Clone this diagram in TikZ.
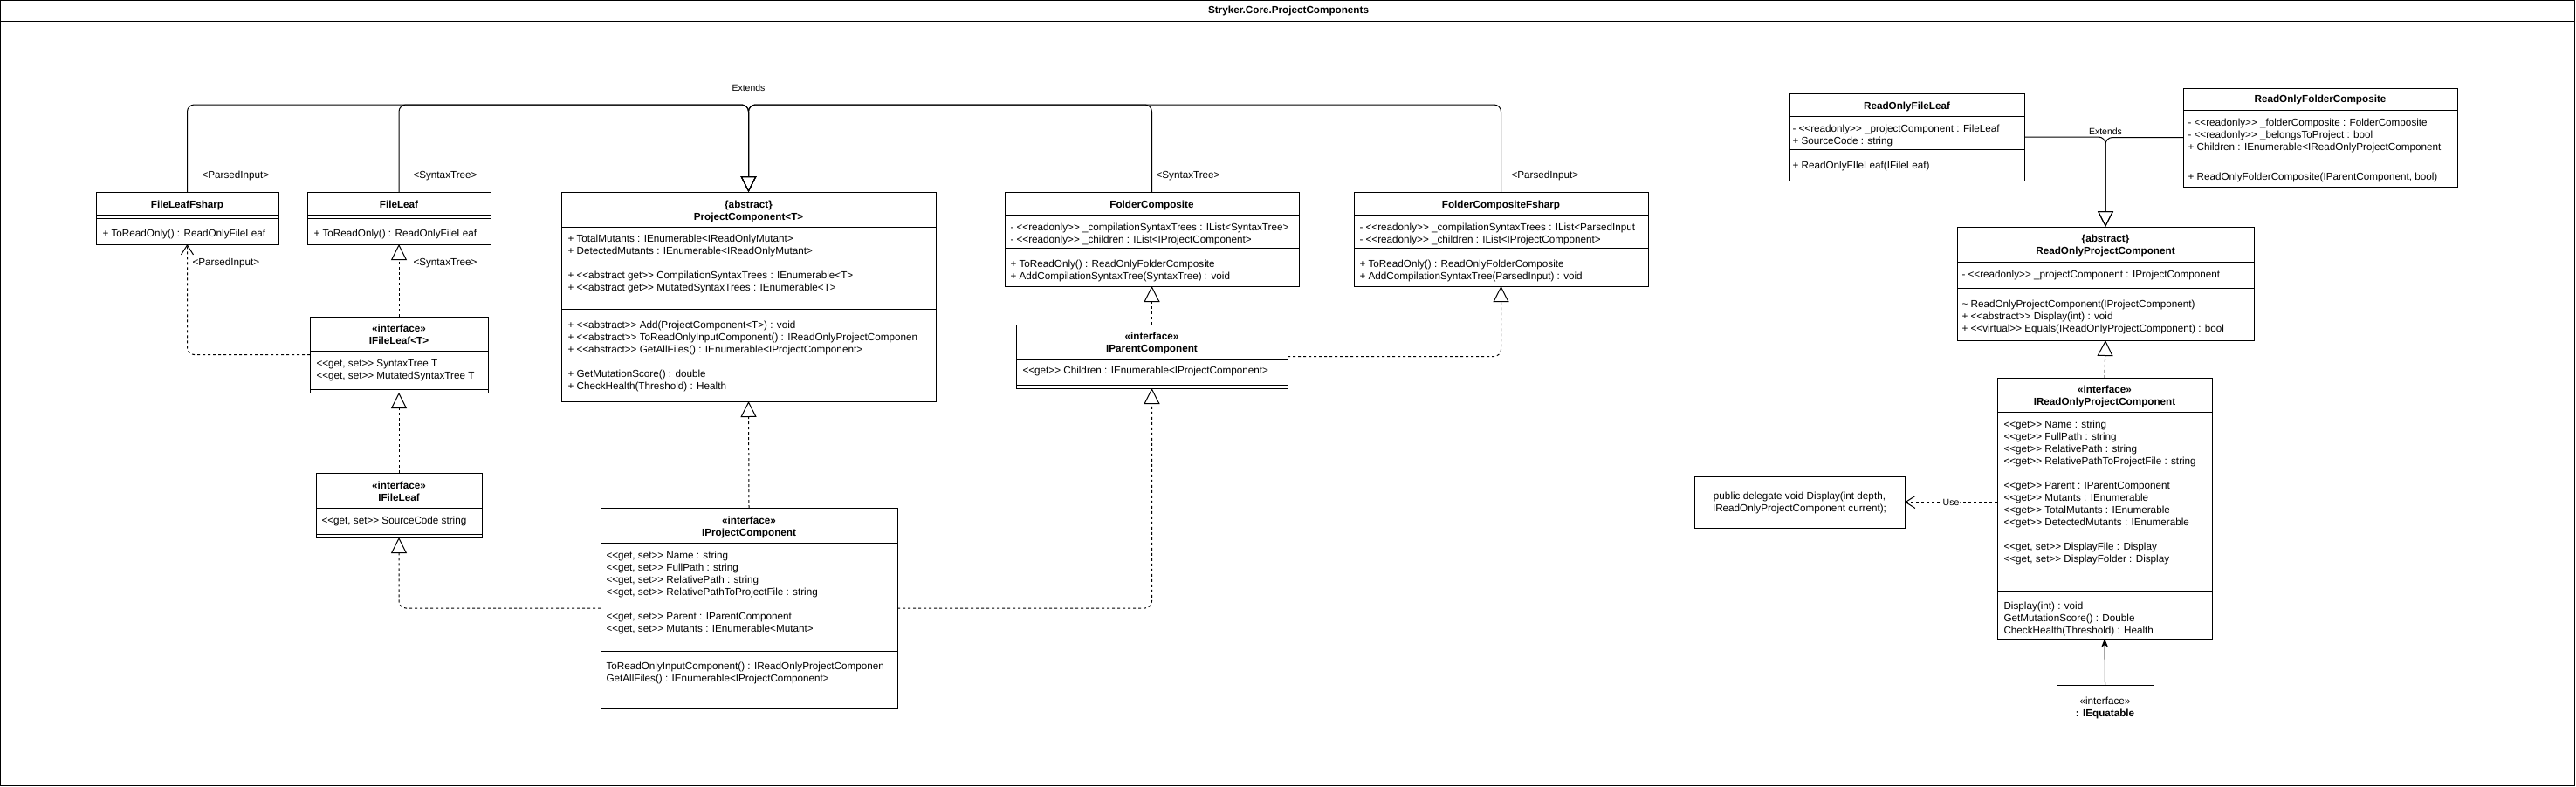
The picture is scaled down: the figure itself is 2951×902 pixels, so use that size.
\documentclass[tikz,border=0pt]{standalone}
\usepackage{fontspec}
\setmainfont{Liberation Sans}
\usetikzlibrary{arrows.meta}
\newcommand{\uft}{\fontsize{11.7}{14}\selectfont}
\newcommand{\ufl}{\fontsize{10.5}{12}\selectfont}
\newcommand{\dlt}{<\kern0pt<}
\newcommand{\dgt}{>\kern0pt>}
\newcommand{\uL}[1]{\hbox{#1}}
\newcommand{\uC}[1]{\hbox to 0pt{\hss#1\hss}}
\newcommand{\ubox}[5]{\node[cls, minimum width={#4pt-#2pt}, minimum height={#5pt-#3pt}] (#1) at ({(#2+#4)/2},{(#3+#5)/2}) {};}
\newcommand{\hdiv}[2]{\draw[line width=1pt] ([yshift=-#2pt]#1.north west) -- ([yshift=-#2pt]#1.north east);}
\begin{document}
\begin{tikzpicture}[x=1pt,y=-1pt,line width=1pt,
  cls/.style={draw, line width=1pt, inner sep=0pt, outer sep=0pt, fill=white},
  ttl/.style={font=\uft\bfseries, inner sep=0pt, anchor=base},
  txt/.style={font=\uft, inner sep=0pt, anchor=base west},
  lbl/.style={font=\uft, inner sep=0pt, anchor=base west},
  ctr/.style={font=\uft, inner sep=0pt, anchor=base},
  elbl/.style={font=\ufl, inner sep=0pt, anchor=base},
  gen/.style={-{Triangle[open,length=18pt,width=18pt]}, rounded corners=8pt},
  real/.style={gen, dash pattern=on 3pt off 3pt},
  dep/.style={-{Straight Barb[length=11pt,width=14pt]}, dash pattern=on 3pt off 3pt, rounded corners=8pt},
  assoc/.style={-{Stealth[length=10pt,width=8pt,inset=3pt]}}]
\useasboundingbox (0,0) rectangle (2951,902);
% frame
\node[cls, anchor=north west, minimum width=2949pt, minimum height=900pt] (frame) at (0.5,0.5) {};
\draw ([yshift=-24pt]frame.north west) -- ([yshift=-24pt]frame.north east);
\node[ttl] (title) at (1476,15) {Stryker.Core.ProjectComponents};

% FileLeafFsharp
\ubox{flf}{110}{220}{319}{280}
\hdiv{flf}{26}\hdiv{flf}{30}
\node[ttl] (flf-t) at (214.5,238) {FileLeafFsharp};
\node[txt] (flf-m) at (117,271) {+ ToReadOnly() : ReadOnlyFileLeaf};

% FileLeaf
\ubox{fl}{352}{220}{562}{280}
\hdiv{fl}{26}\hdiv{fl}{30}
\node[ttl] (fl-t) at (457,238) {FileLeaf};
\node[txt] (fl-m) at (359,271) {+ ToReadOnly() : ReadOnlyFileLeaf};

% ProjectComponent
\ubox{pc}{643}{220}{1072}{460}
\hdiv{pc}{40}\hdiv{pc}{134}
\node[ttl] (pc-t) at (857.5,238) {\vtop{\uC{\{abstract\}}\uC{ProjectComponent<T>}}};
\node[txt] (pc-a) at (650,277) {\vtop{\uL{+ TotalMutants : IEnumerable<IReadOnlyMutant>}\uL{+ DetectedMutants : IEnumerable<IReadOnlyMutant>}\uL{}\uL{+ \dlt abstract get\dgt{} CompilationSyntaxTrees : IEnumerable<T>}\uL{+ \dlt abstract get\dgt{} MutatedSyntaxTrees : IEnumerable<T>}}};
\node[txt] (pc-m) at (650,376) {\vtop{\uL{+ \dlt abstract\dgt{} Add(ProjectComponent<T>) : void}\uL{+ \dlt abstract\dgt{} ToReadOnlyInputComponent() : IReadOnlyProjectComponen}\uL{+ \dlt abstract\dgt{} GetAllFiles() : IEnumerable<IProjectComponent>}\uL{}\uL{+ GetMutationScore() : double}\uL{+ CheckHealth(Threshold) : Health}}};

% FolderComposite
\ubox{fc}{1151}{220}{1488}{328}
\hdiv{fc}{26}\hdiv{fc}{64}
\node[ttl] (fc-t) at (1319.5,238) {FolderComposite};
\node[txt] (fc-a) at (1157,264) {\vtop{\uL{- \dlt readonly\dgt{} \_compilationSyntaxTrees : IList<SyntaxTree>}\uL{- \dlt readonly\dgt{} \_children : IList<IProjectComponent>}}};
\node[txt] (fc-m) at (1157,306) {\vtop{\uL{+ ToReadOnly() : ReadOnlyFolderComposite}\uL{+ AddCompilationSyntaxTree(SyntaxTree) : void}}};

% FolderCompositeFsharp
\ubox{fcf}{1551}{220}{1888}{328}
\hdiv{fcf}{26}\hdiv{fcf}{64}
\node[ttl] (fcf-t) at (1719.5,238) {FolderCompositeFsharp};
\node[txt] (fcf-a) at (1557,264) {\vtop{\uL{- \dlt readonly\dgt{} \_compilationSyntaxTrees : IList<ParsedInput}\uL{- \dlt readonly\dgt{} \_children : IList<IProjectComponent>}}};
\node[txt] (fcf-m) at (1557,306) {\vtop{\uL{+ ToReadOnly() : ReadOnlyFolderComposite}\uL{+ AddCompilationSyntaxTree(ParsedInput) : void}}};

% IFileLeaf<T>
\ubox{iflt}{355}{363}{559}{450}
\hdiv{iflt}{39}\hdiv{iflt}{83}
\node[ttl] (iflt-t) at (457,380) {\vtop{\uC{«interface»}\uC{IFileLeaf<T>}}};
\node[txt] (iflt-a) at (362,420) {\vtop{\uL{\dlt get, set\dgt{} SyntaxTree T}\uL{\dlt get, set\dgt{} MutatedSyntaxTree T}}};

% IFileLeaf
\ubox{ifl}{362}{542}{552}{616}
\hdiv{ifl}{40}\hdiv{ifl}{70}
\node[ttl] (ifl-t) at (457,560) {\vtop{\uC{«interface»}\uC{IFileLeaf}}};
\node[txt] (ifl-a) at (368,600) {\dlt get, set\dgt{} SourceCode string};

% IParentComponent
\ubox{ipc}{1164}{372}{1475}{445}
\hdiv{ipc}{40}\hdiv{ipc}{69}
\node[ttl] (ipc-t) at (1319.5,389) {\vtop{\uC{«interface»}\uC{IParentComponent}}};
\node[txt] (ipc-a) at (1171,428) {\dlt get\dgt{} Children : IEnumerable<IProjectComponent>};

% IProjectComponent
\ubox{iprc}{688}{582}{1028}{812}
\hdiv{iprc}{40}\hdiv{iprc}{164}
\node[ttl] (iprc-t) at (858,600) {\vtop{\uC{«interface»}\uC{IProjectComponent}}};
\node[txt] (iprc-a) at (694,640) {\vtop{\uL{\dlt get, set\dgt{} Name : string}\uL{\dlt get, set\dgt{} FullPath : string}\uL{\dlt get, set\dgt{} RelativePath : string}\uL{\dlt get, set\dgt{} RelativePathToProjectFile : string}\uL{}\uL{\dlt get, set\dgt{} Parent : IParentComponent}\uL{\dlt get, set\dgt{} Mutants : IEnumerable<Mutant>}}};
\node[txt] (iprc-m) at (694,767) {\vtop{\uL{ToReadOnlyInputComponent() : IReadOnlyProjectComponen}\uL{GetAllFiles() : IEnumerable<IProjectComponent>}}};

% ReadOnlyFileLeaf
\ubox{rofl}{2050}{107}{2319}{207}
\hdiv{rofl}{26}\hdiv{rofl}{64}
\node[ttl] (rofl-t) at (2184.5,125) {ReadOnlyFileLeaf};
\node[txt] (rofl-a) at (2053,151) {\vtop{\uL{- \dlt readonly\dgt{} \_projectComponent : FileLeaf}\uL{+ SourceCode : string}}};
\node[txt] (rofl-m) at (2053,193) {+ ReadOnlyFIleLeaf(IFileLeaf)};

% ReadOnlyFolderComposite
\ubox{rofc}{2501}{101}{2815}{214}
\hdiv{rofc}{25}\hdiv{rofc}{83}
\node[ttl] (rofc-t) at (2658,117) {ReadOnlyFolderComposite};
\node[txt] (rofc-a) at (2506,144) {\vtop{\uL{- \dlt readonly\dgt{} \_folderComposite : FolderComposite}\uL{- \dlt readonly\dgt{} \_belongsToProject : bool}\uL{+ Children : IEnumerable<IReadOnlyProjectComponent}}};
\node[txt] (rofc-m) at (2506,206) {+ ReadOnlyFolderComposite(IParentComponent, bool)};

% ReadOnlyProjectComponent
\ubox{ropc}{2242}{260}{2582}{390}
\hdiv{ropc}{40}\hdiv{ropc}{70}
\node[ttl] (ropc-t) at (2412,277) {\vtop{\uC{\{abstract\}}\uC{ReadOnlyProjectComponent}}};
\node[txt] (ropc-a) at (2247,318) {- \dlt readonly\dgt{} \_projectComponent : IProjectComponent};
\node[txt] (ropc-m) at (2247,352) {\vtop{\uL{\textasciitilde{} ReadOnlyProjectComponent(IProjectComponent)}\uL{+ \dlt abstract\dgt{} Display(int) : void}\uL{+ \dlt virtual\dgt{} Equals(IReadOnlyProjectComponent) : bool}}};

% IReadOnlyProjectComponent
\ubox{iropc}{2288}{433}{2534}{732}
\hdiv{iropc}{39}\hdiv{iropc}{244}
\node[ttl] (iropc-t) at (2411,450) {\vtop{\uC{«interface»}\uC{IReadOnlyProjectComponent}}};
\node[txt] (iropc-a) at (2295,490) {\vtop{\uL{\dlt get\dgt{} Name : string}\uL{\dlt get\dgt{} FullPath : string}\uL{\dlt get\dgt{} RelativePath : string}\uL{\dlt get\dgt{} RelativePathToProjectFile : string}\uL{}\uL{\dlt get\dgt{} Parent : IParentComponent}\uL{\dlt get\dgt{} Mutants : IEnumerable}\uL{\dlt get\dgt{} TotalMutants : IEnumerable}\uL{\dlt get\dgt{} DetectedMutants : IEnumerable}\uL{}\uL{\dlt get, set\dgt{} DisplayFile : Display}\uL{\dlt get, set\dgt{} DisplayFolder : Display}}};
\node[txt] (iropc-m) at (2295,698) {\vtop{\uL{Display(int) : void}\uL{GetMutationScore() : Double}\uL{CheckHealth(Threshold) : Health}}};

% delegate
\ubox{dlg}{1941}{546}{2182}{605}
\node[ctr] (dlg-t) at (2061.5,572) {\vtop{\uC{public delegate void Display(int depth,}\uC{IReadOnlyProjectComponent current);}}};

% IEquatable
\ubox{ieq}{2356}{785}{2467}{835}
\node[ctr] (ieq-t) at (2411.5,807) {\vtop{\uC{«interface»}\uC{\bfseries : IEquatable}}};

% Extends (left)
\coordinate (jL) at (857.5,120);
\draw[gen] (flf.north) |- (jL) -- (pc.north);
\draw[gen] (fl.north) |- (jL) -- (pc.north);
\draw[gen] (fc.north) |- (jL) -- (pc.north);
\draw[gen] (fcf.north) |- (jL) -- (pc.north);
\node[elbl] (ext-l) at (857.5,104) {Extends};
\node[lbl] (lb1) at (231,204) {<ParsedInput>};
\node[lbl] (lb2) at (473,204) {<SyntaxTree>};
\node[lbl] (lb3) at (1324,204) {<SyntaxTree>};
\node[lbl] (lb4) at (1731,204) {<ParsedInput>};

% realizations left
\draw[real] (iflt.north) -- (fl.south);
\node[lbl] (lb6) at (473,304) {<SyntaxTree>};
\draw[dep] (iflt.west) -| (flf.south);
\node[lbl] (lb5) at (220,304) {<ParsedInput>};
\draw[real] (ifl.north) -- (iflt.south);
\draw[real] (iprc.west) -| (ifl.south);
\draw[real] (iprc.north) -- (pc.south);
\draw[real] (iprc.east) -| (ipc.south);
\draw[real] (ipc.north) -- (fc.south);
\draw[real] (ipc.east) -| (fcf.south);

% right side
\draw[gen] (rofl.east) -| (ropc.north);
\draw[gen] (rofc.west) -| (ropc.north);
\node[elbl] (ext-r) at (2412,154) {Extends};
\draw[real] (iropc.north) -- (ropc.south);
\draw[dep] (iropc.west |- dlg.east) -- (dlg.east) node[midway, fill=white, font=\ufl, inner sep=1pt] (use) {Use};
\draw[assoc] (ieq.north) -- (iropc.south);
\end{tikzpicture}
\end{document}
